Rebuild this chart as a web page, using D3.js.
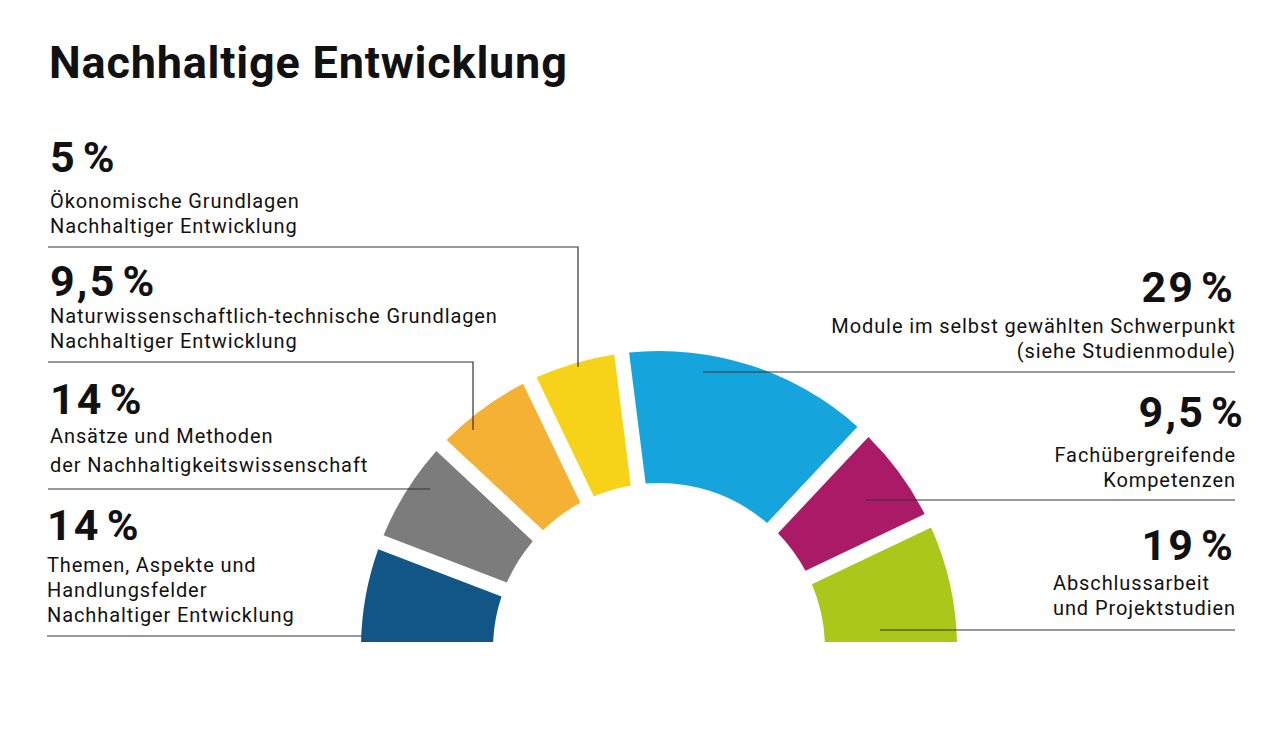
<!DOCTYPE html>
<html><head><meta charset="utf-8">
<script src="https://cdn.jsdelivr.net/npm/d3@7"></script>
<style>
body{margin:0;background:#fff}
text{font-family:Roboto,"DejaVu Sans",sans-serif;fill:#111}
</style>
</head><body>
<svg id="c" width="1280" height="754"></svg>
<script>
// ---- data ----
const title = "Nachhaltige Entwicklung";
const categories = [
  ["Themen, Aspekte und", "Handlungsfelder", "Nachhaltiger Entwicklung"],
  ["Ansätze und Methoden", "der Nachhaltigkeitswissenschaft"],
  ["Naturwissenschaftlich-technische Grundlagen", "Nachhaltiger Entwicklung"],
  ["Ökonomische Grundlagen", "Nachhaltiger Entwicklung"],
  ["Module im selbst gewählten Schwerpunkt", "(siehe Studienmodule)"],
  ["Fachübergreifende", "Kompetenzen"],
  ["Abschlussarbeit", "und Projektstudien"]
];
const values = [14, 14, 9.5, 5, 29, 9.5, 19];
const valueLabels = ["14 %", "14 %", "9,5 %", "5 %", "29 %", "9,5 %", "19 %"];
// the original graphic does not draw slices to scale: angular weight of each slice as drawn
const drawnShare = [27, 22.1, 21.2, 18.5, 50.4, 21.3, 31.5];
const colors = ["#115686", "#7c7c7c", "#f5b134", "#f6d318", "#16a4dc", "#aa1a66", "#abc71a"];

// ---- layout ----
const W = 1280, H = 754;
const cx = 659, cy = 649, rOuter = 298, rInner = 166, clipY = 642;
const ext = 6; // degrees drawn below horizontal and clipped away
const labelLayout = [
  {side:"L", x:47, pctY:540, lineY:[572,597,622], lead:[[47,636],[362,636]]},
  {side:"L", x:50, pctY:414, lineY:[443,472], lead:[[48,489],[430,489]]},
  {side:"L", x:50, pctY:296, lineY:[323,348], lead:[[48,362],[473,362],[473,430]]},
  {side:"L", x:50, pctY:172, lineY:[208,233], lead:[[48,247],[578,247],[578,367]]},
  {side:"R", x:1235, pctX:1233, pctY:302, lineY:[333,358], lead:[[1235,372],[703,372]]},
  {side:"R", x:1235, pctX:1243, pctY:427, lineY:[462,487], lead:[[1235,500],[866,500]]},
  {side:"RL", x:1053, pctX:1233, pctY:560, lineY:[590,615], lead:[[1235,630],[880,630]]}
];

const svg = d3.select("#c");
svg.append("text").attr("x", 49).attr("y", 78)
  .attr("font-size", 45).attr("font-weight", 700).attr("letter-spacing", 0.8).text(title);

const defs = svg.append("defs");
defs.append("clipPath").attr("id","clip").append("rect")
  .attr("x",0).attr("y",0).attr("width",W).attr("height",clipY);

const rad = d => d * Math.PI / 180;
const pie = d3.pie().sort(null).value(d => d)
  .startAngle(rad(-90 - ext)).endAngle(rad(90 + ext));
const arcs = pie(drawnShare);
const arc = d3.arc().innerRadius(rInner).outerRadius(rOuter)
  .padAngle(0.15).padRadius(100);

svg.append("g").attr("clip-path","url(#clip)")
  .append("g").attr("transform", `translate(${cx},${cy})`)
  .selectAll("path").data(arcs).join("path")
  .attr("d", arc).attr("fill", (d,i) => colors[i]);

// labels
labelLayout.forEach((L, i) => {
  const g = svg.append("g");
  const left = L.side === "L";
  const pctX = left ? L.x : L.pctX + 2;
  g.append("text").attr("x", pctX).attr("y", L.pctY)
    .attr("text-anchor", left ? "start" : "end").attr("font-size", 43).attr("font-weight", 700)
    .attr("letter-spacing", 2.2).attr("word-spacing", -7)
    .text(valueLabels[i]);
  const rightAligned = L.side === "R";
  categories[i].forEach((t, k) => {
    g.append("text").attr("x", rightAligned ? L.x + 0.9 : L.x).attr("y", L.lineY[k])
      .attr("text-anchor", rightAligned ? "end" : "start").attr("font-size", 20)
      .attr("letter-spacing", 0.9)
      .text(t);
  });
  svg.append("path").attr("d", d3.line()(L.lead))
    .attr("fill","none").attr("stroke","#333").attr("stroke-width",1.2);
});
</script>
</body></html>
